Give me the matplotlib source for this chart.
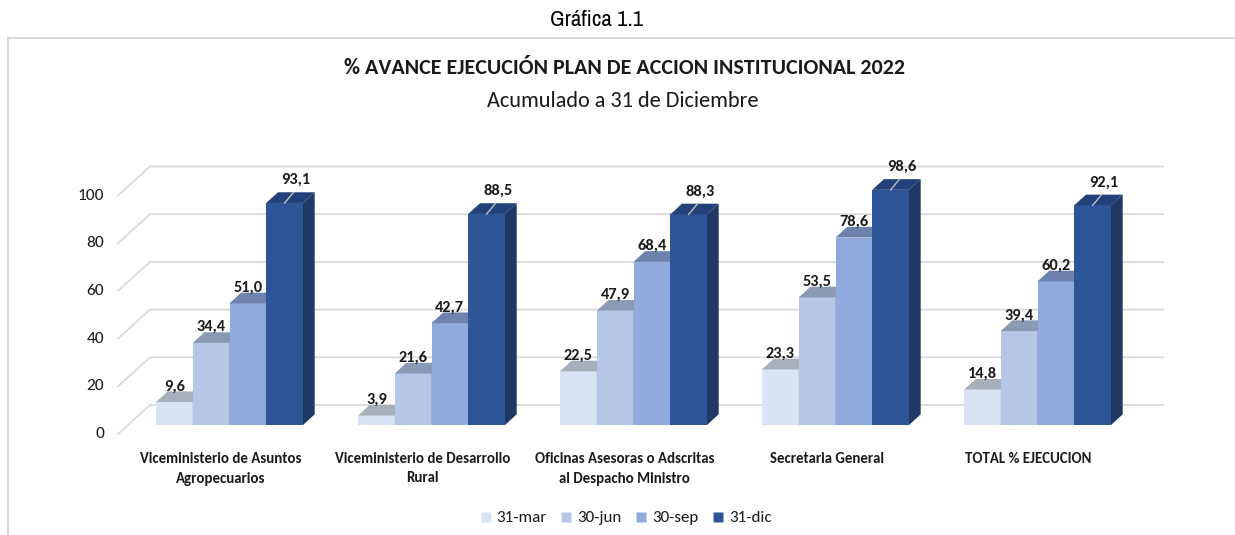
import matplotlib
matplotlib.use("Agg")
import matplotlib.pyplot as plt
from matplotlib.patches import Polygon
from matplotlib.lines import Line2D

# data
categories = [
    "Viceministerio de Asuntos\nAgropecuarios",
    "Viceministerio de Desarrollo\nRural",
    "Oficinas Asesoras o Adscritas\nal Despacho Ministro",
    "Secretaria General",
    "TOTAL % EJECUCION",
]
series_names = ["31-mar", "30-jun", "30-sep", "31-dic"]
val_mar = [9.6, 3.9, 22.5, 23.3, 14.8]
val_jun = [34.4, 21.6, 47.9, 53.5, 39.4]
val_sep = [51.0, 42.7, 68.4, 78.6, 60.2]
val_dic = [93.1, 88.5, 88.3, 98.6, 92.1]
y_ticks = [0, 20, 40, 60, 80, 100]

series = [val_mar, val_jun, val_sep, val_dic]

front_colors = ["#DAE3F3", "#B4C7E7", "#8FAADC", "#2E5597"]
top_colors = ["#A7AFBB", "#8A99B4", "#6D83AD", "#22417A"]
side_colors = ["#A9B3C4", "#8796B4", "#6A80AC", "#203864"]
grid_color = "#D9D9D9"
text_color = "#1A1A1A"

CALIBRI = ["Carlito", "PT Sans Narrow", "IBM Plex Sans Condensed", "DejaVu Sans"]
NARROW = ["Arial Narrow", "Liberation Sans Narrow", "Archivo Narrow", "PT Sans Narrow",
          "IBM Plex Sans Condensed", "DejaVu Sans"]

# layout in pixels (figure 1235 x 535 at 100 dpi)
W, H = 1235, 535
AX_L, AX_R, AX_T, AX_B = 60, 1200, 140, 445
GROUP_PX = 202.0      # distance between groups
X0 = 229.5            # front centre of first group
Y0 = 425.0            # front baseline
PXU = 2.385           # pixels per percentage point


def ux(px):
    return px / GROUP_PX


def uy(px):
    return px / PXU


fig = plt.figure(figsize=(W / 100, H / 100), dpi=100)
ax = fig.add_axes([AX_L / W, (H - AX_B) / H, (AX_R - AX_L) / W, (AX_B - AX_T) / H])
ax.set_xlim((AX_L - X0) / GROUP_PX, (AX_R - X0) / GROUP_PX)
ax.set_ylim((Y0 - AX_B) / PXU, (Y0 - AX_T) / PXU)
ax.axis("off")

# back wall gridlines + left wall diagonals
back_dy = uy(20)
front_dy = uy(-9)
x_back_l = (150 - X0) / GROUP_PX
x_back_r = (1163 - X0) / GROUP_PX
x_front_l = (118 - X0) / GROUP_PX
for t in y_ticks:
    ax.plot([x_front_l, x_back_l, x_back_r], [t + front_dy, t + back_dy, t + back_dy],
            color=grid_color, lw=1.3, zorder=1, solid_joinstyle="miter")
    ax.text((104 - X0) / GROUP_PX, t + front_dy, str(t), ha="right", va="center",
            fontsize=12.5, family=CALIBRI, color=text_color)

# 3d-looking bars
bw = ux(36.75)
ddx = ux(11.7)
ddy = uy(10.7)
for j, vals in enumerate(series):
    xs = [g + (j - 1.5) * bw for g in range(len(categories))]
    ax.bar(xs, vals, width=bw, color=front_colors[j], zorder=3 + j, linewidth=0)
    for x, v in zip(xs, vals):
        xl, xr = x - bw / 2, x + bw / 2
        ax.add_patch(Polygon([(xl, v), (xl + ddx, v + ddy), (xr + ddx, v + ddy), (xr, v)],
                             closed=True, facecolor=top_colors[j], edgecolor="none", zorder=3 + j))
        ax.add_patch(Polygon([(xr, 0), (xr, v), (xr + ddx, v + ddy), (xr + ddx, ddy)],
                             closed=True, facecolor=side_colors[j], edgecolor="none", zorder=3 + j))
        lab = f"{v:.1f}".replace(".", ",")
        if j == len(series) - 1:
            ax.plot([x, x + ux(9)], [v, v + ddy], color="#BFBFBF", lw=1, zorder=10)
            ax.text(x + ux(11), v + ddy + uy(12), lab, ha="center", va="center",
                    fontsize=11.8, fontweight="bold", family=CALIBRI, color=text_color, zorder=11)
        else:
            ax.text(x, v + ddy + uy(5), lab, ha="center", va="center",
                    fontsize=11.8, fontweight="bold", family=CALIBRI, color=text_color, zorder=11)

# category labels
for g, name in enumerate(categories):
    ax.text(g - ux(9), uy(Y0 - 452), name, ha="center", va="top", fontsize=10.7,
            fontweight="bold", family=CALIBRI, color=text_color, linespacing=1.5)

# titles
fig.text(597 / W, 1 - 20 / H, "Gráfica 1.1", ha="center", va="center", fontsize=16.5,
         family=NARROW, color="#000000")
fig.text(625 / W, 1 - 68 / H, "% AVANCE EJECUCIÓN PLAN DE ACCION INSTITUCIONAL 2022",
         ha="center", va="center", fontsize=15.8, fontweight="bold", family=CALIBRI,
         color=text_color)
fig.text(623 / W, 1 - 101 / H, "Acumulado a 31 de Diciembre", ha="center", va="center",
         fontsize=16, family=CALIBRI, color=text_color)

# chart frame
fig.add_artist(Line2D([8 / W, 1.01], [1 - 38 / H, 1 - 38 / H], transform=fig.transFigure,
                      color=grid_color, lw=1.5))
fig.add_artist(Line2D([8 / W, 8 / W], [1 - 38 / H, -0.01], transform=fig.transFigure,
                      color=grid_color, lw=1.5))

# legend
handles = [Line2D([], [], marker="s", linestyle="none", markersize=6.5,
                  markerfacecolor=c, markeredgecolor="none") for c in front_colors]
fig.legend(handles, series_names, loc="center", bbox_to_anchor=(626 / W, 1 - 518 / H),
           ncol=4, frameon=False, handlelength=0.6, handletextpad=0.35, columnspacing=0.85,
           prop={"family": CALIBRI, "size": 12.2}, labelcolor=text_color)

fig.savefig("out.png", dpi=100)
